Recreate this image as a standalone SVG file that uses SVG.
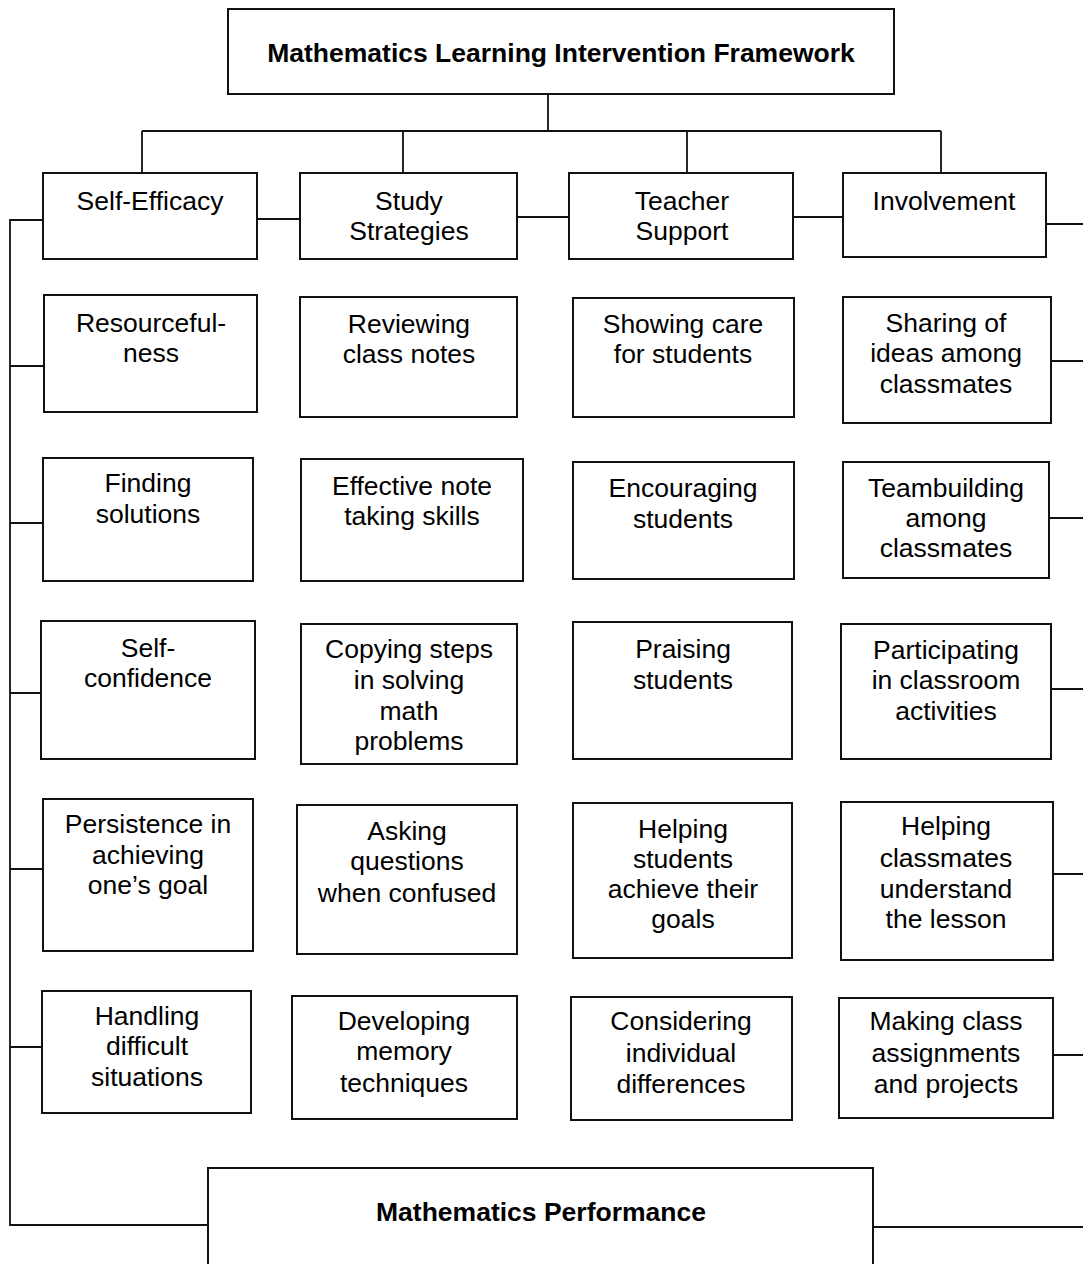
<svg xmlns="http://www.w3.org/2000/svg" width="1083" height="1264" viewBox="0 0 1083 1264">
<style>
.box{fill:#fff;stroke:#111;stroke-width:2}
.ln{fill:none;stroke:#111;stroke-width:1.8}
text{font-family:"Liberation Sans",Arial,sans-serif;font-size:26.5px;fill:#000;text-anchor:middle}
.b{font-weight:bold}
</style>
<rect width="1083" height="1264" fill="#fff"/>
<g id="connectors">
<path class="ln" d="M548 94V131M142 131H941M142 131V173M403 131V173M687 131V173M941 131V173"/>
<path class="ln" d="M257 219H300M517 217H569M793 217H843M1046 224H1083"/>
<path class="ln" d="M43 220H10V1225H208"/>
<path class="ln" d="M10 366H44M10 523H43M10 693H41M10 869H43M10 1047H42"/>
<path class="ln" d="M1050 361H1083M1049 518H1083M1050 689H1083M1053 874H1083M1053 1055H1083M873 1227H1083"/>
</g>
<g id="title"><rect class="box" x="228" y="9" width="666" height="85"/><text class="b" x="561" y="62">Mathematics Learning Intervention Framework</text></g>
<g id="self-efficacy"><rect class="box" x="43" y="173" width="214" height="86"/><text x="150" y="210">Self-Efficacy</text></g>
<g id="study-strategies"><rect class="box" x="300" y="173" width="217" height="86"/><text x="409" y="210">Study</text><text x="409" y="240">Strategies</text></g>
<g id="teacher-support"><rect class="box" x="569" y="173" width="224" height="86"/><text x="682" y="210">Teacher</text><text x="682" y="240">Support</text></g>
<g id="involvement"><rect class="box" x="843" y="173" width="203" height="84"/><text x="944" y="210">Involvement</text></g>

<g id="resourcefulness"><rect class="box" x="44" y="295" width="213" height="117"/><text x="151" y="332">Resourceful-</text><text x="151" y="362">ness</text></g>
<g id="finding-solutions"><rect class="box" x="43" y="458" width="210" height="123"/><text x="148" y="492">Finding</text><text x="148" y="523">solutions</text></g>
<g id="self-confidence"><rect class="box" x="41" y="621" width="214" height="138"/><text x="148" y="657">Self-</text><text x="148" y="687">confidence</text></g>
<g id="persistence"><rect class="box" x="43" y="799" width="210" height="152"/><text x="148" y="833">Persistence in</text><text x="148" y="864">achieving</text><text x="148" y="894">one’s goal</text></g>
<g id="handling"><rect class="box" x="42" y="991" width="209" height="122"/><text x="147" y="1025">Handling</text><text x="147" y="1055">difficult</text><text x="147" y="1086">situations</text></g>

<g id="reviewing"><rect class="box" x="300" y="297" width="217" height="120"/><text x="409" y="333">Reviewing</text><text x="409" y="363">class notes</text></g>
<g id="effective-notes"><rect class="box" x="301" y="459" width="222" height="122"/><text x="412" y="495">Effective note</text><text x="412" y="525">taking skills</text></g>
<g id="copying-steps"><rect class="box" x="301" y="624" width="216" height="140"/><text x="409" y="658">Copying steps</text><text x="409" y="689">in solving</text><text x="409" y="720">math</text><text x="409" y="750">problems</text></g>
<g id="asking-questions"><rect class="box" x="297" y="805" width="220" height="149"/><text x="407" y="840">Asking</text><text x="407" y="870">questions</text><text x="407" y="902">when confused</text></g>
<g id="memory"><rect class="box" x="292" y="996" width="225" height="123"/><text x="404" y="1030">Developing</text><text x="404" y="1060">memory</text><text x="404" y="1092">techniques</text></g>

<g id="showing-care"><rect class="box" x="573" y="298" width="221" height="119"/><text x="683" y="333">Showing care</text><text x="683" y="363">for students</text></g>
<g id="encouraging"><rect class="box" x="573" y="462" width="221" height="117"/><text x="683" y="497">Encouraging</text><text x="683" y="528">students</text></g>
<g id="praising"><rect class="box" x="573" y="622" width="219" height="137"/><text x="683" y="658">Praising</text><text x="683" y="689">students</text></g>
<g id="helping-students"><rect class="box" x="573" y="803" width="219" height="155"/><text x="683" y="838">Helping</text><text x="683" y="868">students</text><text x="683" y="898">achieve their</text><text x="683" y="928">goals</text></g>
<g id="individual-differences"><rect class="box" x="571" y="997" width="221" height="123"/><text x="681" y="1030">Considering</text><text x="681" y="1062">individual</text><text x="681" y="1093">differences</text></g>

<g id="sharing-ideas"><rect class="box" x="843" y="297" width="208" height="126"/><text x="946" y="332">Sharing of</text><text x="946" y="362">ideas among</text><text x="946" y="393">classmates</text></g>
<g id="teambuilding"><rect class="box" x="843" y="462" width="206" height="116"/><text x="946" y="497">Teambuilding</text><text x="946" y="527">among</text><text x="946" y="557">classmates</text></g>
<g id="participating"><rect class="box" x="841" y="624" width="210" height="135"/><text x="946" y="659">Participating</text><text x="946" y="689">in classroom</text><text x="946" y="720">activities</text></g>
<g id="helping-classmates"><rect class="box" x="841" y="802" width="212" height="158"/><text x="946" y="835">Helping</text><text x="946" y="867">classmates</text><text x="946" y="898">understand</text><text x="946" y="928">the lesson</text></g>
<g id="assignments"><rect class="box" x="839" y="998" width="214" height="120"/><text x="946" y="1030">Making class</text><text x="946" y="1062">assignments</text><text x="946" y="1093">and projects</text></g>

<g id="performance"><rect class="box" x="208" y="1168" width="665" height="110"/><text class="b" x="541" y="1221">Mathematics Performance</text></g>
</svg>
